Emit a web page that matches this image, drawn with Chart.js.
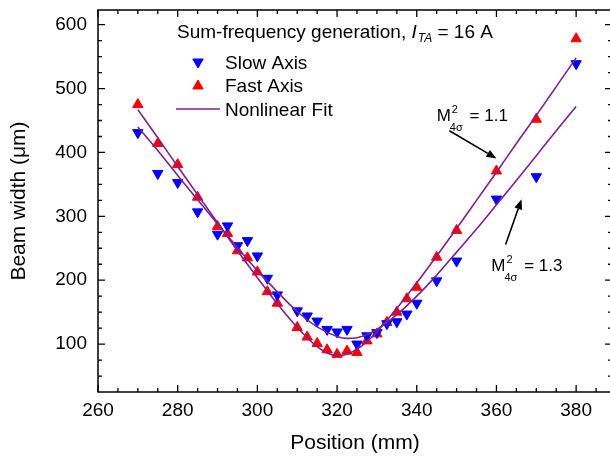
<!DOCTYPE html>
<html><head><meta charset="utf-8">
<script src="https://cdn.jsdelivr.net/npm/chart.js@4.4.1/dist/chart.umd.min.js"></script>
<style>html,body{margin:0;padding:0;background:#fff;overflow:hidden}#wrap{width:620px;height:459px}</style>
</head><body><div id="wrap"><canvas id="c" width="620" height="459"></canvas></div>
<script>
// ---- data ----
const fastX = [270,275,280,285,290,292.5,295,297.5,300,302.5,305,310,312.5,315,317.5,320,322.5,325,327.5,330,332.5,335,337.5,340,345,350,360,370,380];
const fastY = [475,414,381,330,284,273,246,235,213,182,164,126,111,101,91,84,89,87,105,116,134,150,171,189,236,278,371,452,578];
const slowX = [270,275,280,285,290,292.5,295,297.5,300,302.5,305,310,312.5,315,317.5,320,322.5,325,327.5,330,332.5,335,337.5,340,345,350,360,370,380];
const slowY = [431,367,353,307,272,285,254,262,238,203,177,152,144,136,123,119,123,100,113,118,132,135,147,164,199,230,327,362,539];
const fitFastX = [270,275,280,285,290,295,300,305,310,312.5,315,317.5,320,322.5,325,327.5,330,335,340,345,350,355,360,365,370,375,380];
const fitFastY = [467,423,378,334,290,246,204,163,126,110,96,86,82,84,92,104,119,156,196,238,281,325,369,414,458,503,548];
const fitSlowX = [270,275,280,285,290,295,300,305,310,315,320,322.5,325,327.5,330,335,340,345,350,355,360,365,370,375,380];
const fitSlowY = [440,403,364,326,288,251,215,182,151,127,112,109,110,115,123,146,175,208,244,280,318,356,395,434,472];
const xTickLabels = [260,280,300,320,340,360,380];
const yTickLabels = [100,200,300,400,500,600];
const seriesNames = ['Slow Axis','Fast Axis','Nonlinear Fit'];

const FONT = "'Liberation Sans', Arial, sans-serif";
const pts = (xs, ys) => xs.map((x,i)=>({x:x, y:ys[i]}));
const RED = '#ff0000', BLUE = '#0000ff', PURPLE = '#7f1f8f';

const decor = {
  id:'decor',
  afterDraw(chart){
    const ctx = chart.ctx, a = chart.chartArea;
    const xs = chart.scales.x, ys = chart.scales.y;
    ctx.save();
    ctx.strokeStyle = '#000'; ctx.lineWidth = 1.5;
    ctx.strokeRect(a.left, a.top, a.right - a.left, a.bottom - a.top);
    ctx.lineWidth = 1.3;
    ctx.beginPath();
    for (let v = 260; v <= xs.max; v += 5) {
      const p = xs.getPixelForValue(v);
      const L = (v % 20 === 0) ? 7 : 4;
      ctx.moveTo(p, a.bottom); ctx.lineTo(p, a.bottom - L);
      ctx.moveTo(p, a.top); ctx.lineTo(p, a.top + L);
    }
    for (let v = 50; v <= ys.max; v += 25) {
      const p = ys.getPixelForValue(v);
      const L = (v % 100 === 0) ? 7 : 4;
      ctx.moveTo(a.left, p); ctx.lineTo(a.left + L, p);
      ctx.moveTo(a.right, p); ctx.lineTo(a.right - L, p);
    }
    ctx.stroke();

    // title text
    ctx.fillStyle = '#000';
    ctx.textBaseline = 'alphabetic';
    ctx.font = '19px ' + FONT;
    let tx = 177, ty = 38;
    const t1 = 'Sum-frequency generation, ';
    ctx.fillText(t1, tx, ty); tx += ctx.measureText(t1).width;
    ctx.font = 'italic 19px ' + FONT;
    ctx.fillText('I', tx, ty); tx += ctx.measureText('I').width + 1;
    ctx.font = 'italic 12px ' + FONT;
    ctx.fillText('TA', tx, ty + 4); tx += ctx.measureText('TA').width;
    ctx.font = '19px ' + FONT;
    ctx.fillText(' = 16 A', tx, ty);

    // legend
    const drawTri = (x, y, down, col) => {
      ctx.fillStyle = col; ctx.strokeStyle = col; ctx.lineWidth = 1;
      Chart.helpers.drawPoint(ctx, {pointStyle:'triangle', rotation: down ? 180 : 0, radius:6, borderWidth:1}, x, y);
    };
    drawTri(198, 62, true, BLUE);
    drawTri(198, 86, false, RED);
    ctx.strokeStyle = PURPLE; ctx.lineWidth = 1.6;
    ctx.beginPath(); ctx.moveTo(176, 109); ctx.lineTo(220, 109); ctx.stroke();
    ctx.fillStyle = '#000'; ctx.font = '19px ' + FONT; ctx.textBaseline = 'alphabetic';
    ctx.fillText(seriesNames[0], 225, 69);
    ctx.fillText(seriesNames[1], 225, 92);
    ctx.fillText(seriesNames[2], 225, 116);

    // annotations
    const M = (xv, yv, val) => {
      let x = xs.getPixelForValue(xv), y = ys.getPixelForValue(yv);
      ctx.fillStyle = '#000';
      ctx.font = '17px ' + FONT; ctx.fillText('M', x, y);
      const w = ctx.measureText('M').width;
      ctx.font = '11px ' + FONT;
      ctx.fillText('2', x + w + 1, y - 8);
      ctx.fillText('4\u03C3', x + w - 1, y + 10);
      ctx.font = '17px ' + FONT;
      ctx.fillText(' = ' + val, x + w + 14, y);
    };
    M(345.0, 449, '1.1');
    M(358.7, 214.5, '1.3');
    const arrow = (x1, y1, x2, y2) => {
      const X1 = xs.getPixelForValue(x1), Y1 = ys.getPixelForValue(y1);
      const X2 = xs.getPixelForValue(x2), Y2 = ys.getPixelForValue(y2);
      const ang = Math.atan2(Y2 - Y1, X2 - X1);
      const hl = 10, hw = 4;
      ctx.strokeStyle = '#000'; ctx.fillStyle = '#000'; ctx.lineWidth = 1.6;
      ctx.beginPath(); ctx.moveTo(X1, Y1);
      ctx.lineTo(X2 - hl * Math.cos(ang), Y2 - hl * Math.sin(ang)); ctx.stroke();
      ctx.beginPath(); ctx.moveTo(X2, Y2);
      ctx.lineTo(X2 - hl * Math.cos(ang) + hw * Math.sin(ang), Y2 - hl * Math.sin(ang) - hw * Math.cos(ang));
      ctx.lineTo(X2 - hl * Math.cos(ang) - hw * Math.sin(ang), Y2 - hl * Math.sin(ang) + hw * Math.cos(ang));
      ctx.closePath(); ctx.fill();
    };
    arrow(348.2, 434, 360, 390.6);
    arrow(362.3, 256, 366.3, 326.6);
    ctx.restore();
  }
};

new Chart(document.getElementById('c'), {
  type: 'scatter',
  data: { datasets: [
    { label: seriesNames[2], data: pts(fitFastX, fitFastY), showLine: true, borderColor: PURPLE, borderWidth: 1.6, pointRadius: 0, cubicInterpolationMode: 'monotone', order: 0 },
    { label: seriesNames[2], data: pts(fitSlowX, fitSlowY), showLine: true, borderColor: PURPLE, borderWidth: 1.6, pointRadius: 0, cubicInterpolationMode: 'monotone', order: 0 },
    { label: seriesNames[0], data: pts(slowX, slowY), pointStyle: 'triangle', rotation: 180, pointRadius: 6, backgroundColor: BLUE, borderColor: BLUE, borderWidth: 1, order: 1 },
    { label: seriesNames[1], data: pts(fastX, fastY), pointStyle: 'triangle', pointRadius: 6, backgroundColor: RED, borderColor: RED, borderWidth: 1, order: 1 }
  ]},
  options: {
    responsive: false, animation: false, devicePixelRatio: 1,
    layout: { padding: { top: 10, right: 8, left: 0, bottom: 0 } },
    plugins: { legend: { display: false }, tooltip: { enabled: false } },
    scales: {
      x: {
        type: 'linear', min: 260, max: 389,
        afterBuildTicks: s => { s.ticks = xTickLabels.map(v => ({ value: v })); },
        afterFit: s => { s.height = 67; s.paddingLeft = 0; s.paddingRight = 0; },
        grid: { display: false, drawTicks: false }, border: { display: false },
        ticks: { color: '#000', font: { family: FONT, size: 19 }, padding: 7, maxRotation: 0 },
        title: { display: true, text: 'Position (mm)', color: '#000', font: { family: FONT, size: 21 }, padding: { top: 0, bottom: 3 } }
      },
      y: {
        type: 'linear', min: 25, max: 623,
        afterBuildTicks: s => { s.ticks = yTickLabels.map(v => ({ value: v })); },
        afterFit: s => { s.width = 98; s.paddingTop = 0; s.paddingBottom = 0; },
        grid: { display: false, drawTicks: false }, border: { display: false },
        ticks: { color: '#000', font: { family: FONT, size: 19 }, padding: 11 },
        title: { display: true, text: 'Beam width (\u03BCm)', color: '#000', font: { family: FONT, size: 21 }, padding: { top: 7, bottom: 0 } }
      }
    }
  },
  plugins: [decor]
});
</script>
</body></html>
